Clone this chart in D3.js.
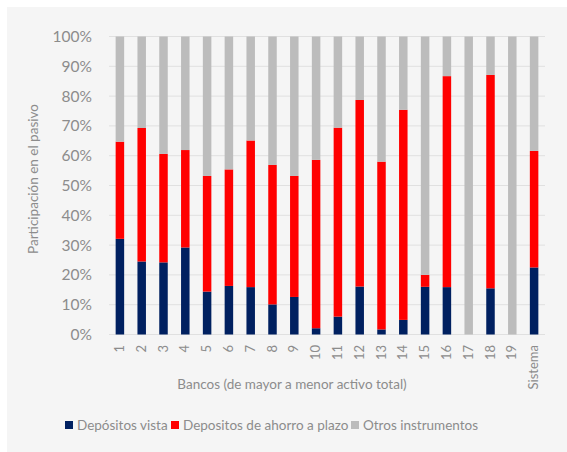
<!DOCTYPE html>
<html>
<head>
<meta charset="utf-8">
<script src="https://cdn.jsdelivr.net/npm/d3@7"></script>
<style>
  html, body { margin: 0; padding: 0; background: #ffffff; }
  text { font-family: Lato, "Open Sans", sans-serif; fill: #8c8c8c; }
</style>
</head>
<body>
<div id="chart"></div>
<script>
// Categories and series (percent of liabilities)
const BANKS = ["1", "2", "3", "4", "5", "6", "7", "8", "9", "10",
    "11", "12", "13", "14", "15", "16", "17", "18", "19", "Sistema"];
const VISTA = [32.1, 24.5, 24.2, 29.2, 14.4, 16.3, 15.9, 10.1, 12.6, 2.1,
    6.0, 16.1, 1.7, 4.9, 16.0, 15.9, 0, 15.5, 0, 22.5];
const AHORRO = [32.6, 44.8, 36.4, 32.7, 38.8, 39.1, 49.2, 46.8, 40.6, 56.5,
    63.4, 62.6, 56.3, 70.5, 4.0, 70.8, 0, 71.6, 0, 39.1];
const Y_TICKS = [0, 10, 20, 30, 40, 50, 60, 70, 80, 90, 100];

const SERIES = [
    { key: "vista", label: "Depósitos vista", color: "#002060" },
    { key: "ahorro", label: "Depositos de ahorro a plazo", color: "#ff0000" },
    { key: "otros", label: "Otros instrumentos", color: "#bcbcbc" },
];

const rows = BANKS.map((b, i) => ({
    bank: b,
    vista: VISTA[i],
    ahorro: AHORRO[i],
    otros: 100 - VISTA[i] - AHORRO[i],
}));

const W = 567, H = 452;
const svg = d3.select("#chart").append("svg")
    .attr("width", W).attr("height", H);

// panel background
svg.append("rect")
    .attr("x", 7).attr("y", 7)
    .attr("width", W - 7).attr("height", H - 7)
    .attr("fill", "#f5f5f5");

// ── Scales ────────────────────────────────────────────────────────────────
const x = d3.scaleBand().domain(BANKS).range([109, 545]).paddingInner(0.61).paddingOuter(0.305);
const y = d3.scaleLinear().domain([0, 100]).range([334.5, 36.5]);

// gridlines
svg.append("g")
    .selectAll("line")
    .data(Y_TICKS)
    .join("line")
    .attr("x1", 109).attr("x2", 545)
    .attr("y1", d => y(d)).attr("y2", d => y(d))
    .attr("stroke", "#e0e0e0")
    .attr("stroke-width", 1);

// y tick labels
svg.append("g")
    .selectAll("text")
    .data(Y_TICKS)
    .join("text")
    .attr("x", 92)
    .attr("y", d => y(d))
    .attr("dy", "0.35em")
    .attr("text-anchor", "end")
    .attr("font-size", "15.5px")
    .text(d => d + "%");

// ── Stacked bars ──────────────────────────────────────────────────────────
const stack = d3.stack().keys(SERIES.map(s => s.key));
const layers = stack(rows);

svg.append("g")
    .selectAll("g")
    .data(layers)
    .join("g")
    .attr("fill", (d, i) => SERIES[i].color)
    .selectAll("rect")
    .data(d => d)
    .join("rect")
    .attr("x", d => x(d.data.bank))
    .attr("width", x.bandwidth())
    .attr("y", d => y(d[1]))
    .attr("height", d => y(d[0]) - y(d[1]));

// x tick labels (rotated)
svg.append("g")
    .selectAll("text")
    .data(BANKS)
    .join("text")
    .attr("transform", d => `translate(${x(d) + x.bandwidth() / 2 + 4},${345}) rotate(-90)`)
    .attr("text-anchor", "end")
    .attr("font-size", "13px")
    .text(d => d);

// axis titles
svg.append("text")
    .attr("x", 292).attr("y", 389)
    .attr("text-anchor", "middle")
    .attr("font-size", "13.5px")
    .text("Bancos (de mayor a menor activo total)");

svg.append("text")
    .attr("transform", "translate(38,179) rotate(-90)")
    .attr("text-anchor", "middle")
    .attr("font-size", "13.5px")
    .text("Participación en el pasivo");

// ── Legend ────────────────────────────────────────────────────────────────
const legendX = [65, 171, 351];
const legend = svg.append("g");
SERIES.forEach((s, i) => {
    legend.append("rect")
        .attr("x", legendX[i]).attr("y", 421)
        .attr("width", 8).attr("height", 8)
        .attr("fill", s.color);
    legend.append("text")
        .attr("x", legendX[i] + 12).attr("y", 425)
        .attr("dy", "0.35em")
        .attr("font-size", "13.5px")
        .text(s.label);
});
</script>
</body>
</html>
